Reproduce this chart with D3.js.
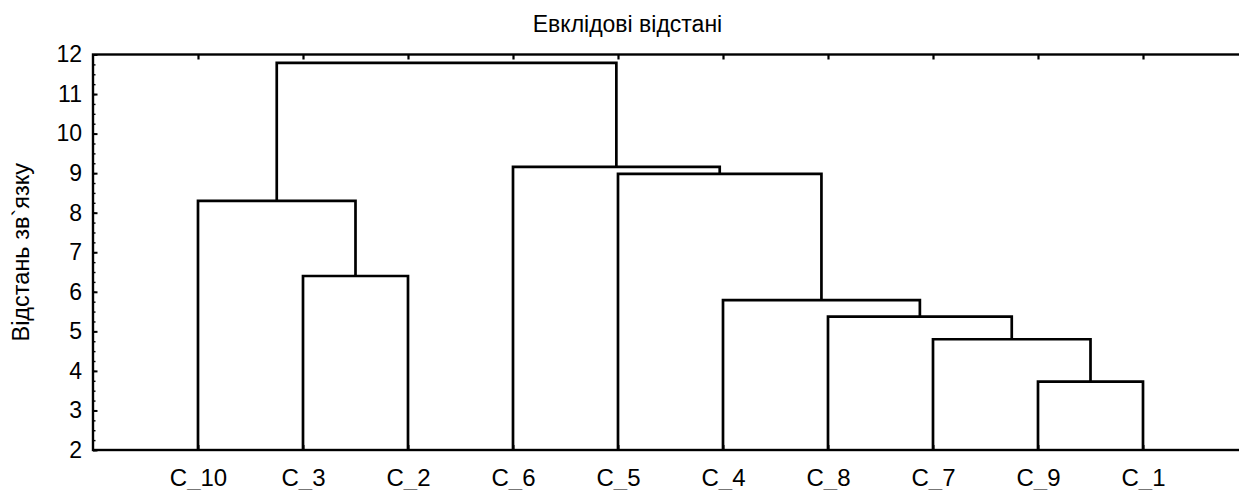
<!DOCTYPE html>
<html>
<head>
<meta charset="utf-8">
<script src="https://cdn.jsdelivr.net/npm/d3@7"></script>
<style>
  body { margin: 0; background: #fff; }
  svg { display: block; }
  text { font-family: "Liberation Sans", Arial, sans-serif; fill: #000; }
</style>
</head>
<body>
<div class="chart"></div>
<script>
// leaf order along the x axis
const leaves = ['C_10', 'C_3', 'C_2', 'C_6', 'C_5', 'C_4', 'C_8', 'C_7', 'C_9', 'C_1'];

// merge steps: left child, right child, linkage distance
// (children named 'm1'.. refer to earlier merges)
const mergeLeft   = ['C_9', 'C_7', 'C_8', 'C_4', 'C_3', 'C_10', 'C_5', 'C_6', 'm6'];
const mergeRight  = ['C_1', 'm1',  'm2',  'm3',  'C_2', 'm5',   'm4',  'm7',  'm8'];
const mergeHeight = [3.73,  4.80,  5.37,  5.79,  6.40,  8.30,   8.98,  9.16,  11.79];

const yTicks = [2, 3, 4, 5, 6, 7, 8, 9, 10, 11, 12];

const title = 'Евклідові відстані';
const yTitle = 'Відстань зв`язку';

const width = 1239, height = 490;
const margin = {top: 54.5, right: -9, bottom: 40, left: 93};
const innerW = width - margin.left - margin.right;
const innerH = height - margin.top - margin.bottom;

const svg = d3.select('.chart')
  .append('svg')
    .attr('width', width)
    .attr('height', height);

const graph = svg.append('g')
  .attr('transform', `translate(${margin.left}, ${margin.top})`);

const x = d3.scalePoint()
  .domain(leaves)
  .range([0, innerW])
  .padding(1);

const y = d3.scaleLinear()
  .domain([2, 12])
  .range([innerH, 0]);

// build node positions: leaves from the scale, clusters at midpoint of children
const nodes = {};
leaves.forEach(d => { nodes[d] = {x: x(d), h: 2}; });
const links = [];
mergeLeft.forEach((l, i) => {
  const a = nodes[l], b = nodes[mergeRight[i]], h = mergeHeight[i];
  links.push({a, b, h});
  nodes['m' + (i + 1)] = {x: (a.x + b.x) / 2, h};
});

// frame
graph.append('rect')
  .attr('x', 0).attr('y', 0)
  .attr('width', innerW).attr('height', innerH)
  .attr('fill', 'none')
  .attr('stroke', '#000')
  .attr('stroke-width', 2.4);

// minor ticks on the y axis
const minor = d3.range(2, 12.01, 0.25);
graph.append('g')
  .call(d3.axisLeft(y).tickValues(minor).tickSize(-2.5).tickFormat(''))
  .call(g => g.select('.domain').remove())
  .selectAll('line').attr('stroke-width', 1.4);

// y axis
const yAxisGroup = graph.append('g')
  .call(d3.axisLeft(y).tickValues(yTicks).tickSize(-4.5).tickPadding(11).tickFormat(d => d))
  .call(g => g.select('.domain').remove());
yAxisGroup.selectAll('line').attr('stroke-width', 2);
yAxisGroup.selectAll('text')
  .style('font-size', '23px')
  .style('font-family', '"Liberation Sans", Arial, sans-serif');

// top ticks
graph.append('g')
  .call(d3.axisTop(x).tickSize(-5).tickFormat(''))
  .call(g => g.select('.domain').remove())
  .selectAll('line').attr('stroke-width', 2.2);

// bottom axis with leaf labels
const xAxisGroup = graph.append('g')
  .attr('transform', `translate(0, ${innerH})`)
  .call(d3.axisBottom(x).tickSize(-5).tickPadding(18.5))
  .call(g => g.select('.domain').remove());
xAxisGroup.selectAll('line').attr('stroke-width', 2);
xAxisGroup.selectAll('text')
  .style('font-size', '24px')
  .style('font-family', '"Liberation Sans", Arial, sans-serif');

// dendrogram links
graph.append('g')
  .selectAll('path')
  .data(links)
  .enter()
  .append('path')
    .attr('fill', 'none')
    .attr('stroke', '#000')
    .attr('stroke-width', 2.7)
    .attr('d', d => `M${d.a.x},${y(d.a.h)}V${y(d.h)}H${d.b.x}V${y(d.b.h)}`);

// titles
svg.append('text')
  .attr('x', 627.5)
  .attr('y', 32)
  .attr('text-anchor', 'middle')
  .style('font-size', '23px')
  .text(title);

svg.append('text')
  .attr('transform', `translate(28.5, ${margin.top + innerH / 2}) rotate(-90)`)
  .attr('text-anchor', 'middle')
  .style('font-size', '23.5px')
  .text(yTitle);
</script>
</body>
</html>
